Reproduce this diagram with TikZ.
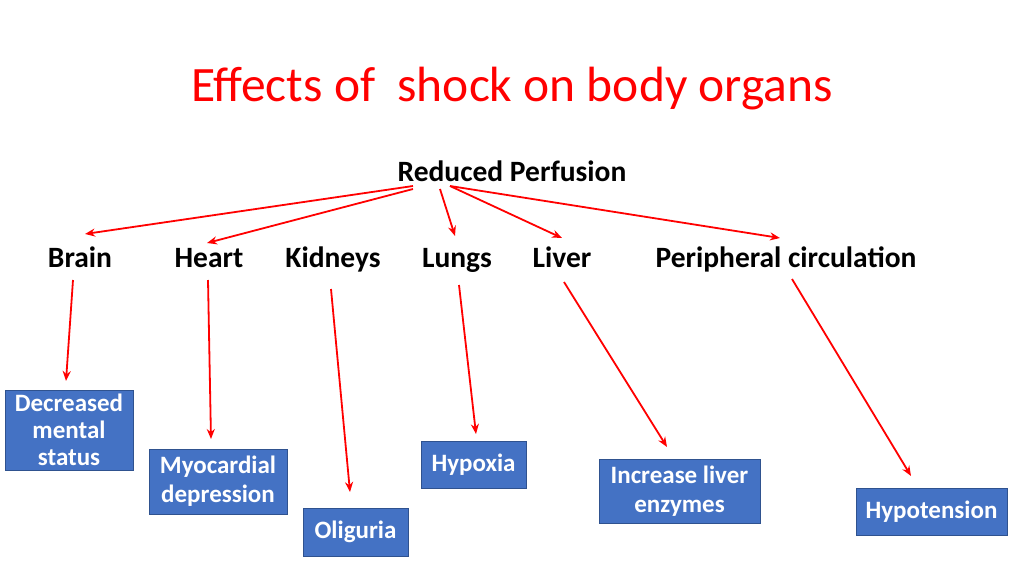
\documentclass[tikz,border=0pt]{standalone}
\usepackage{fontspec}
\setmainfont{Carlito}
\usetikzlibrary{arrows.meta}
\definecolor{boxblue}{HTML}{4472C4}
\definecolor{boxedge}{HTML}{2F528F}
\begin{document}
\begin{tikzpicture}[x=1pt,y=-1pt,
 lbl/.style={font=\fontsize{29.5}{34}\selectfont\bfseries,anchor=base},
 bx/.style={draw=boxedge,line width=1pt,fill=boxblue,text=white,font=\fontsize{25}{30}\selectfont\bfseries,align=center,inner sep=0pt},
 arr/.style={draw=red,line width=1.8pt,-{Stealth[length=10pt,width=8pt]}}]
\useasboundingbox (0,0) rectangle (1024,576);
\node[text=red,font=\fontsize{49.5}{56}\selectfont,anchor=base] (title) at (512,101) {Effects of\ \ shock on body organs};
\node[lbl] (rp) at (512,181) {Reduced Perfusion};
\node[lbl] (brain) at (80,267) {Brain};
\node[lbl] (heart) at (209,267) {Heart};
\node[lbl] (kid) at (333,267) {Kidneys};
\node[lbl] (lungs) at (457,267) {Lungs};
\node[lbl] (liver) at (562,267) {Liver};
\node[lbl] (peri) at (786,267) {Peripheral circulation};
\node[bx,minimum width=128pt,minimum height=80pt] (b1) at (69,430) {Decreased\\[-3pt]mental\\[-3pt]status};
\node[bx,minimum width=138pt,minimum height=65pt] (b2) at (218,481.5) {Myocardial\\[-1pt]depression};
\node[bx,minimum width=105pt,minimum height=48pt] (b3) at (355.5,532) {Oliguria};
\node[bx,minimum width=105pt,minimum height=47pt] (b4) at (473.5,464.5) {Hypoxia};
\node[bx,minimum width=161pt,minimum height=64pt] (b5) at (679.5,491) {Increase liver\\[-1pt]enzymes};
\node[bx,minimum width=151pt,minimum height=47pt] (b6) at (931.5,511.5) {Hypotension};
\coordinate (r1) at (413,186); \coordinate (r2) at (413,189);
\coordinate (r3) at (440,189); \coordinate (r4) at (450,186);
\coordinate (e1) at (85,234); \coordinate (e2) at (207,243);
\coordinate (e3) at (455,236); \coordinate (e4) at (562,238); \coordinate (e5) at (780,238);
\draw[arr] (r1) -- (e1);
\draw[arr] (r2) -- (e2);
\draw[arr] (r3) -- (e3);
\draw[arr] (r4) -- (e4);
\draw[arr] (r4) -- (e5);
\coordinate (s1) at (73,280); \coordinate (t1) at (66,381);
\coordinate (s2) at (208,280); \coordinate (t2) at (211,439);
\coordinate (s3) at (331,289); \coordinate (t3) at (350,492);
\coordinate (s4) at (459,285); \coordinate (t4) at (476,434);
\coordinate (s5) at (564,282); \coordinate (t5) at (667,447);
\coordinate (s6) at (792,279); \coordinate (t6) at (911,476);
\foreach \i in {1,...,6} \draw[arr] (s\i) -- (t\i);
\end{tikzpicture}
\end{document}
